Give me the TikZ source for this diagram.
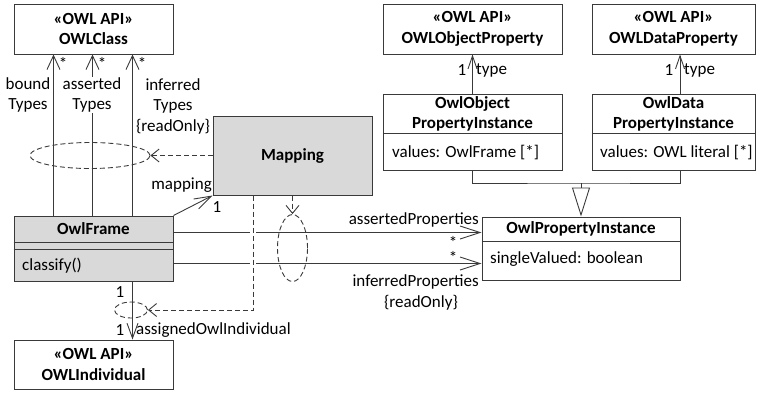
\documentclass[tikz,border=0pt]{standalone}
\usepackage{fontspec}
\setmainfont{Carlito}
\usetikzlibrary{arrows.meta,shapes.geometric}

\definecolor{linegray}{HTML}{3A3A3A}
\definecolor{boxfill}{HTML}{D9D9D9}

\tikzset{
  every node/.style={font=\fontsize{17}{20.5}\selectfont, text=black},
  box/.style={draw=linegray, line width=1pt, inner sep=0pt, rectangle},
  shaded/.style={fill=boxfill},
  title/.style={font=\fontsize{17}{20.5}\selectfont\bfseries, align=center, inner sep=0pt},
  lbl/.style={inner sep=0pt, align=center},
  mult/.style={inner sep=0pt, text height=7pt, text depth=0pt},
  assoc/.style={draw=linegray, line width=0.9pt},
  dep/.style={draw=linegray, line width=0.9pt, dash pattern=on 5pt off 3pt},
  grp/.style={ellipse, dep, inner sep=0pt},
  clsTip/.style={-{Straight Barb[length=14pt,width=13pt]}},
  propTip/.style={-{Straight Barb[length=20pt,width=13pt]}},
  typeTip/.style={-{Straight Barb[length=13pt,width=9pt]}},
  indTip/.style={-{Straight Barb[length=15pt,width=11pt]}},
  mapTip/.style={-{Straight Barb[length=17pt,width=11pt]}},
  depTip/.style={-{Straight Barb[length=8pt,width=13pt]}},
  genTip/.style={-{Triangle[open,length=29pt,width=18pt]}},
}

\begin{document}
\begin{tikzpicture}[x=1pt,y=-1pt]
\useasboundingbox (0,0) rectangle (765,392);

% ---- classes ----
\node[box, title, minimum width=159pt, minimum height=50pt] (owlclass) at (93.5,29) {«OWL API»\\OWLClass};
\node[box, title, minimum width=179pt, minimum height=50pt] (oop) at (472.5,29) {«OWL API»\\OWLObjectProperty};
\node[box, title, minimum width=163pt, minimum height=50pt] (odp) at (673.5,29) {«OWL API»\\OWLDataProperty};

\node[box, minimum width=179pt, minimum height=76pt] (oopi) at (472.5,132) {};
\node[title] (oopiT) at (472.5,114) {OwlObject\\PropertyInstance};
\draw[assoc] (oopi.west |- 0,133) -- (oopi.east |- 0,133);
\node[lbl, anchor=west] (oopiA) at (392,153) {values: OwlFrame [*]};

\node[box, minimum width=163pt, minimum height=76pt] (odpi) at (673.5,132) {};
\node[title] (odpiT) at (673.5,114) {OwlData\\PropertyInstance};
\draw[assoc] (odpi.west |- 0,133) -- (odpi.east |- 0,133);
\node[lbl, anchor=west] (odpiA) at (600,153) {values: OWL literal [*]};

\node[box, shaded, title, minimum width=159pt, minimum height=79pt] (mapping) at (292.5,155.5) {Mapping};

\node[box, shaded, minimum width=159pt, minimum height=65pt] (owlframe) at (93.5,248.5) {};
\node[title] (owlframeT) at (93.5,229) {OwlFrame};
\draw[assoc] (owlframe.west |- 0,242) -- (owlframe.east |- 0,242);
\draw[assoc] (owlframe.west |- 0,249) -- (owlframe.east |- 0,249);
\node[lbl, anchor=west] (owlframeO) at (22,266) {classify()};

\node[box, minimum width=198pt, minimum height=63pt] (opi) at (581,248.5) {};
\node[title] (opiT) at (581,229) {OwlPropertyInstance};
\draw[assoc] (opi.west |- 0,241) -- (opi.east |- 0,241);
\node[lbl, anchor=west] (opiA) at (490,259) {singleValued: boolean};

\node[box, title, minimum width=159pt, minimum height=49pt] (owlind) at (93.5,364.5) {«OWL API»\\OWLIndividual};

% ---- OwlFrame -> OWLClass ----
\draw[assoc, clsTip] ([xshift=40pt]owlframe.north west) -- ([xshift=40pt]owlclass.south west);
\draw[assoc, clsTip] ([xshift=79pt]owlframe.north west) -- ([xshift=79pt]owlclass.south west);
\draw[assoc, clsTip] ([xshift=119pt]owlframe.north west) -- ([xshift=119pt]owlclass.south west);
\node[mult] (m1) at (63,66) {*};
\node[mult] (m2) at (102,66) {*};
\node[mult] (m3) at (142,66) {*};
\node[lbl] (rb) at (28,95) {bound\\Types};
\node[lbl, fill=white, inner sep=0pt] (ra) at (92,95) {asserted\\Types};
\node[lbl] (ri) at (173,106) {inferred\\Types\\\{readOnly\}};

% ---- OwlFrame -> Mapping ----
\draw[assoc, mapTip] (owlframe.north east) -- (mapping.south west);
\node[lbl, anchor=east] (rmap) at (212,185) {mapping};
\node[lbl] (mmap) at (217,207) {1};

% ---- OwlFrame -> OwlPropertyInstance ----
\coordinate (ap) at ([yshift=-17pt]owlframe.north east);
\coordinate (ip) at ([yshift=-48pt]owlframe.north east);
\draw[assoc, propTip] (ap) -- (ap -| opi.west);
\draw[assoc, propTip] (ip) -- (ip -| opi.west);
\node[lbl, anchor=east] (rap) at (479,220) {assertedProperties};
\node[mult] (map) at (453,245) {*};
\node[mult] (mip) at (453,260) {*};
\node[lbl, anchor=east] (rip) at (479,282) {inferredProperties};
\node[lbl] (rip2) at (421,303) {\{readOnly\}};

% ---- OwlFrame -> OWLIndividual ----
\draw[assoc, indTip] ([xshift=119pt]owlframe.south west) -- ([xshift=119pt]owlind.north west);
\node[lbl] (mi1) at (120,292) {1};
\node[lbl] (mi2) at (120,330) {1};
\node[lbl, anchor=west] (rind) at (136,330) {assignedOwlIndividual};

% ---- property instance types ----
\draw[assoc, typeTip] (oopi.north) -- (oop.south);
\draw[assoc, typeTip] ([xshift=6.5pt]odpi.north) -- ([xshift=6.5pt]odp.south);
\node[lbl] (mt1) at (462,70) {1};
\node[lbl, anchor=west] (rt1) at (476,70) {type};
\node[lbl] (mt2) at (669,70) {1};
\node[lbl, anchor=west] (rt2) at (684,70) {type};

% ---- generalization ----
\coordinate (bus) at (581,183);
\draw[assoc] (oopi.south) |- (bus) -| ([xshift=6.5pt]odpi.south);
\draw[assoc, genTip] (bus) -- (opi.north);

% ---- mapping dependencies on association groups ----
\node[grp, minimum width=120pt, minimum height=26pt] (g1) at (90,155.5) {};
\node[grp, minimum width=30pt, minimum height=67pt] (g2) at (292.5,248) {};
\node[grp, minimum width=33pt, minimum height=16pt] (g3) at (131,310) {};

\draw[white, line width=6pt] ([xshift=-39.5pt,yshift=-8pt]mapping.south) -- ([xshift=-39.5pt,yshift=-100pt]mapping.south);
\draw[dep, depTip] (mapping.west) -- (g1.east);
\draw[dep, depTip] (mapping.south) -- (g2.north);
\draw[dep, depTip] ([xshift=-39.5pt]mapping.south) |- (g3.east);
\end{tikzpicture}
\end{document}
